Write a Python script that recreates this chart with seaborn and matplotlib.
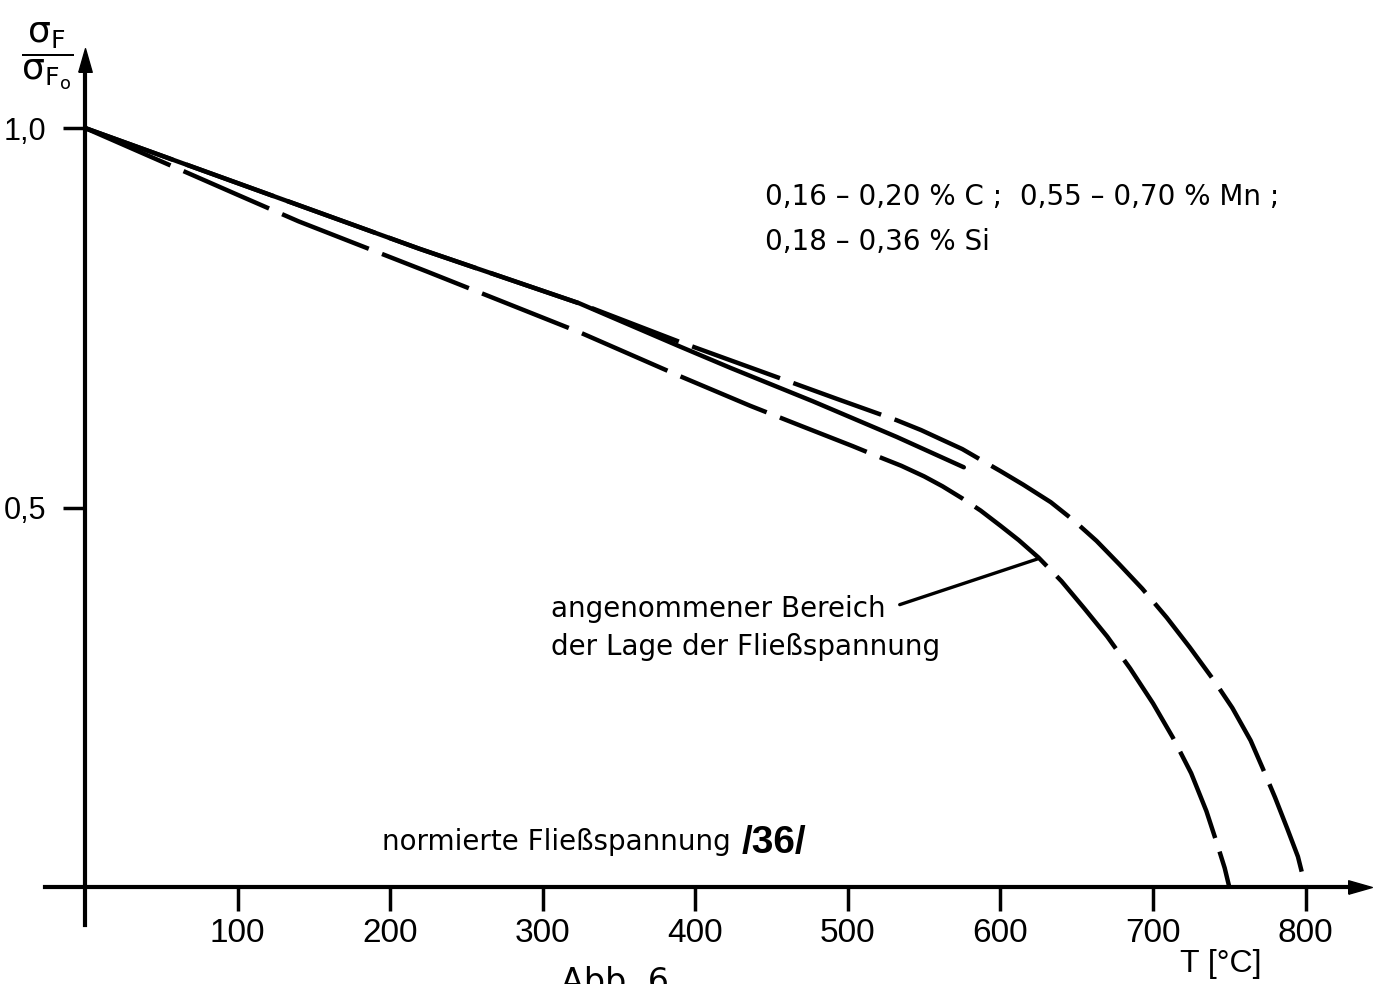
import numpy as np
import pandas as pd
import matplotlib
matplotlib.use("Agg")
import matplotlib.pyplot as plt
import seaborn as sns

# ---------------- data ----------------
T_upper = [0, 219, 324, 390, 434, 493, 532, 548, 562, 575, 587, 600, 615, 633, 648, 663, 678,
           693, 709, 724, 740, 752, 764, 772, 780, 788, 795, 800]
v_upper = [1.0, 0.841, 0.769, 0.718, 0.686, 0.643, 0.615, 0.602, 0.589, 0.577, 0.563, 0.548,
           0.530, 0.507, 0.483, 0.456, 0.425, 0.393, 0.355, 0.316, 0.272, 0.236, 0.193, 0.156,
           0.118, 0.077, 0.040, 0.0]

T_solid = [0, 219, 324, 390, 423, 477, 532, 576]
v_solid = [1.0, 0.841, 0.769, 0.712, 0.684, 0.640, 0.593, 0.553]

T_lower = [0, 100, 140, 224, 324, 390, 436, 470, 503, 520, 535, 550, 562, 575, 587, 600, 612,
           625, 640, 655, 670, 685, 700, 713, 725, 735, 742, 747, 750]
v_lower = [1.0, 0.912, 0.877, 0.811, 0.731, 0.673, 0.634, 0.607, 0.581, 0.567, 0.555, 0.541,
           0.528, 0.512, 0.496, 0.476, 0.457, 0.434, 0.403, 0.367, 0.330, 0.288, 0.242, 0.197,
           0.150, 0.100, 0.057, 0.025, 0.0]

x_ticks = [100, 200, 300, 400, 500, 600, 700, 800]
x_tick_labels = ["100", "200", "300", "400", "500", "600", "700", "800"]
y_ticks = [0.5, 1.0]
y_tick_labels = ["0,5", "1,0"]

composition_1 = "0,16 – 0,20 % C ;  0,55 – 0,70 % Mn ;"
composition_2 = "0,18 – 0,36 % Si"
note_1 = "angenommener Bereich"
note_2 = "der Lage der Fließspannung"
caption = "normierte Fließspannung"
ref_tag = "/36/"
x_label = "T [°C]"
fig_label = "Abb. 6"
y_label = r"$\dfrac{\mathregular{\sigma_F}}{\mathregular{\sigma_{F_o}}}$"

# leader line of the note: from text end to the lower curve
leader_from = (534, 0.372)
leader_to = (624, 0.432)

# ---------------- style ----------------
sns.set_theme(style="white")
plt.rcParams["font.family"] = ["DejaVu Sans"]
plt.rcParams["mathtext.fontset"] = "dejavusans"

W, H = 1388, 984
fig = plt.figure(figsize=(W / 100, H / 100), dpi=100)
fig.patch.set_facecolor("white")
ax = fig.add_axes([0, 0, 1, 1])
ax.set_facecolor("white")

X0, XS = 85.0, 1.5257   # px of T=0, px per degree
Y0, YS = 887.0, 759.0   # px of v=0, px per unit

def fx(px):
    return px / W

def fy(py):
    return 1 - py / H

dash = (0, (21, 3.2))
LW = 3.2
sns.lineplot(x=T_upper, y=v_upper, ax=ax, color="black", lw=LW, linestyle=dash,
             estimator=None, sort=False)
sns.lineplot(x=T_solid, y=v_solid, ax=ax, color="black", lw=LW, estimator=None, sort=False)
sns.lineplot(x=T_lower, y=v_lower, ax=ax, color="black", lw=LW, linestyle=dash,
             estimator=None, sort=False)
for ln in ax.get_lines():
    ln.set_solid_joinstyle("round")
    ln.set_dash_joinstyle("round")

ax.set_xlim(-X0 / XS, (W - X0) / XS)
ax.set_ylim((Y0 - H) / YS, Y0 / YS)
ax.set_xlabel("")
ax.set_ylabel("")

# axes as arrows through the origin
for s in ["top", "right"]:
    ax.spines[s].set_visible(False)
for s in ["left", "bottom"]:
    ax.spines[s].set_color("black")
    ax.spines[s].set_linewidth(3)
ax.spines["left"].set_position(("data", 0))
ax.spines["bottom"].set_position(("data", 0))
ax.spines["left"].set_bounds((Y0 - 925) / YS, (Y0 - 70) / YS)
ax.spines["bottom"].set_bounds((45 - X0) / XS, (1350 - X0) / XS)

up_arrow = [(-0.57, -1), (0.57, -1), (0, 1), (-0.57, -1)]
right_arrow = [(-1, -0.57), (-1, 0.57), (1, 0), (-1, -0.57)]
ax.plot([0], [(Y0 - 60) / YS], marker=up_arrow, ms=17, color="black", clip_on=False)
ax.plot([(1360 - X0) / XS], [0], marker=right_arrow, ms=17, color="black", clip_on=False)

tick_font = ["Liberation Sans", "DejaVu Sans"]
ax.set_xticks(x_ticks)
ax.set_xticklabels(x_tick_labels)
ax.set_yticks(y_ticks)
ax.set_yticklabels(y_tick_labels)
ax.tick_params(axis="x", bottom=True, direction="out", length=17, width=2.5,
               color="black", labelsize=24, pad=5, labelcolor="black")
ax.tick_params(axis="y", left=True, direction="out", length=16, width=2.5,
               color="black", labelsize=22, pad=12, labelcolor="black")
for lab in ax.get_xticklabels() + ax.get_yticklabels():
    lab.set_fontfamily(tick_font)
ax.grid(False)

# leader line
ax.annotate("", xy=leader_to, xytext=leader_from,
            arrowprops=dict(arrowstyle="-", lw=2.4, color="black",
                            shrinkA=0, shrinkB=0))

# texts
txt = dict(color="black", fontsize=20)
fig.text(fx(765), fy(205), composition_1, ha="left", va="baseline", **txt)
fig.text(fx(765), fy(250), composition_2, ha="left", va="baseline", **txt)
fig.text(fx(551), fy(617), note_1, ha="left", va="baseline", **txt)
fig.text(fx(551), fy(655), note_2, ha="left", va="baseline", **txt)
fig.text(fx(382), fy(850), caption, ha="left", va="baseline", **txt)
fig.text(fx(742), fy(853), ref_tag, ha="left", va="baseline", color="black",
         fontsize=28, fontweight="bold", family=tick_font)
fig.text(fx(1221), fy(964), x_label, ha="center", va="center", color="black",
         fontsize=23, family=tick_font)
fig.text(fx(615), fy(966), fig_label, ha="center", va="top", color="black", fontsize=24)
fig.text(fx(47), fy(56), y_label, ha="center", va="center", color="black", fontsize=26)

fig.savefig("out.png", dpi=100, facecolor="white")
